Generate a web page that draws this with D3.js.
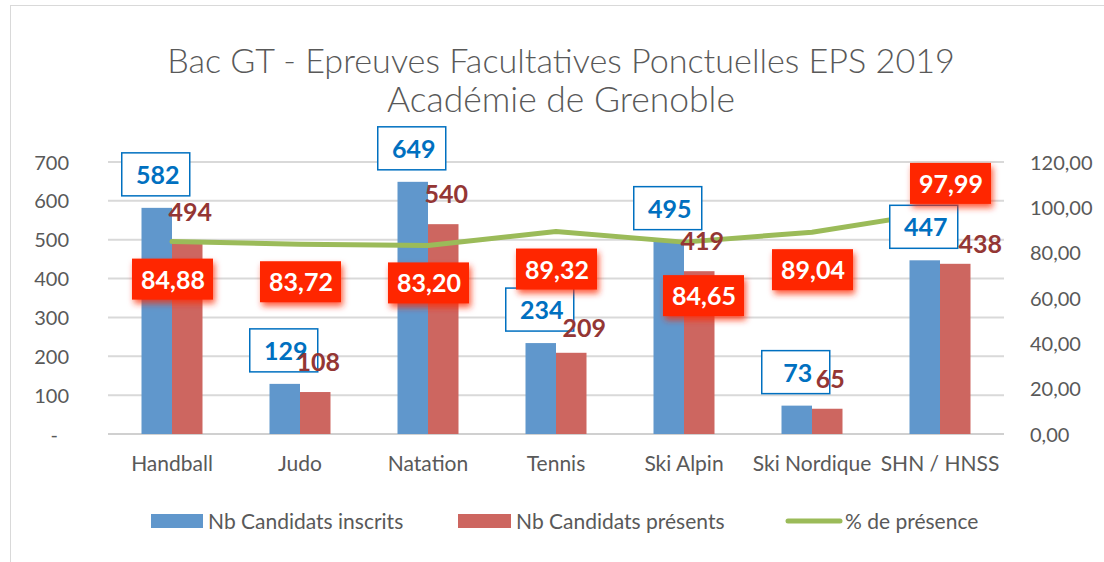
<!DOCTYPE html>
<html><head><meta charset="utf-8">
<script src="https://cdn.jsdelivr.net/npm/d3@7"></script>
<style>
html,body{margin:0;padding:0;background:#fff;}
svg{display:block;font-family:Lato,'Open Sans',sans-serif;}
</style></head>
<body>
<script>
const categories = ["Handball","Judo","Natation","Tennis","Ski Alpin","Ski Nordique","SHN / HNSS"];
const inscrits = [582,129,649,234,495,73,447];
const presents = [494,108,540,209,419,65,438];
const presence = [84.88,83.72,83.20,89.32,84.65,89.04,97.99];
const leftTicks = [0,100,200,300,400,500,600,700];
const rightTicks = [0,20,40,60,80,100,120];
const seriesNames = ["Nb Candidats inscrits","Nb Candidats présents","% de présence"];
const titleLines = ["Bac GT - Epreuves Facultatives Ponctuelles EPS 2019","Académie de Grenoble"];

const W=1104,H=562;
const C={blue:"#6097cc",red:"#cd6660",green:"#9bbb59",grid:"#d9d9d9",text:"#595959",blueLab:"#0070c0",redLab:"#943634",box:"#ff2500"};
// manual label nudges (layout only), as in the original chart
const pctNudge={"Ski Alpin":[19,16],"SHN / HNSS":[10,-66]};
const redNudge={"Tennis":[10,5],"SHN / HNSS":[22,10]};

const svg=d3.select("body").append("svg").attr("width",W).attr("height",H);
const defs=svg.append("defs");
const f=defs.append("filter").attr("id","glow").attr("x","-30%").attr("y","-30%").attr("width","170%").attr("height","180%");
f.append("feDropShadow").attr("dx",2).attr("dy",4).attr("stdDeviation",3).attr("flood-color","#ff2a00").attr("flood-opacity",0.75);

svg.append("rect").attr("x",10.5).attr("y",5.5).attr("width",1110).attr("height",600).attr("fill","#fff").attr("stroke","#d9d9d9");

// title
const tw=[788,348];
titleLines.forEach((t,i)=>{
  const tx=svg.append("text").attr("x",561).attr("y",73+i*39).attr("text-anchor","middle")
    .attr("fill",C.text).attr("font-weight",300).attr("font-size",32).text(t);
  const len=tx.node().getComputedTextLength();
  tx.attr("font-size",32*tw[i]/len);
});

const x=d3.scaleBand().domain(categories).range([108,1004]).padding(0);
const xs=d3.scaleBand().domain([0,1]).range([0,61]);
const off=(x.bandwidth()-61)/2;
const yL=d3.scaleLinear().domain([0,700]).range([434,162]);
const yR=d3.scaleLinear().domain([0,120]).range([434,162]);

// grid
svg.append("g").selectAll("line").data(leftTicks).join("line")
  .attr("x1",108).attr("x2",1004).attr("y1",d=>yL(d)).attr("y2",d=>yL(d))
  .attr("stroke",d=>d===0?"#d0d0d0":C.grid).attr("stroke-width",2);

// left axis
const gL=svg.append("g").attr("transform","translate(69,0)")
  .call(d3.axisLeft(yL).tickValues(leftTicks).tickSize(0).tickPadding(0).tickFormat(d=>d===0?"-":d));
gL.select(".domain").remove();
gL.selectAll("text").attr("font-size",20).attr("fill",C.text).attr("font-family","Lato,sans-serif").attr("dy","0.35em");
gL.selectAll(".tick").filter(d=>d===0).select("text").attr("dx",-11);

// right axis
const gR=svg.append("g").attr("transform","translate(1030,0)")
  .call(d3.axisRight(yR).tickValues(rightTicks).tickSize(0).tickPadding(0).tickFormat(d=>d3.format(".2f")(d).replace(".",",")));
gR.select(".domain").remove();
gR.selectAll("text").attr("font-size",20).attr("fill",C.text).attr("font-family","Lato,sans-serif").attr("dy","0.35em");

// x axis labels
const gX=svg.append("g").attr("transform","translate(0,455)")
  .call(d3.axisBottom(x).tickSize(0).tickPadding(0));
gX.select(".domain").remove();
gX.selectAll("text").attr("font-size",21).attr("fill",C.text).attr("font-family","Lato,sans-serif").attr("dy","0.75em");

// bars
const bars=svg.append("g");
bars.selectAll(".b1").data(categories).join("rect")
  .attr("x",(d)=>x(d)+off+xs(0)).attr("width",xs.bandwidth())
  .attr("y",(d,i)=>yL(inscrits[i])).attr("height",(d,i)=>yL(0)-yL(inscrits[i])).attr("fill",C.blue);
bars.selectAll(".b2").data(categories).join("rect")
  .attr("x",(d)=>x(d)+off+xs(1)).attr("width",xs.bandwidth())
  .attr("y",(d,i)=>yL(presents[i])).attr("height",(d,i)=>yL(0)-yL(presents[i])).attr("fill",C.red);

// line
const cx=d=>x(d)+x.bandwidth()/2;
svg.append("path").datum(categories)
  .attr("d",d3.line().x(d=>cx(d)).y((d,i)=>yR(presence[i])))
  .attr("fill","none").attr("stroke",C.green).attr("stroke-width",5).attr("stroke-linejoin","round").attr("stroke-linecap","round");

// blue labels with box
const bl=svg.append("g");
categories.forEach((c,i)=>{
  const bx=x(c)+off+xs(0)+xs.bandwidth()/2-1;
  const by=yL(inscrits[i])-12;
  bl.append("rect").attr("x",bx-34).attr("y",by-43).attr("width",68).attr("height",43)
    .attr("fill","#fff").attr("stroke",C.blueLab).attr("stroke-width",1.5);
  bl.append("text").attr("x",bx+2).attr("y",by-12).attr("text-anchor","middle")
    .attr("font-size",25).attr("font-weight",700).attr("fill",C.blueLab).text(inscrits[i]);
});

// red value labels
categories.forEach((c,i)=>{
  const n=redNudge[c]||[0,0];
  const bx=x(c)+off+xs(1)+xs.bandwidth()/2+3+n[0];
  svg.append("text").attr("x",bx).attr("y",yL(presents[i])-21+n[1]).attr("text-anchor","middle")
    .attr("font-size",25).attr("font-weight",700).attr("fill",C.redLab).text(presents[i]);
});

// percentage labels
categories.forEach((c,i)=>{
  const n=pctNudge[c]||[0,0];
  const px=cx(c)+n[0], py=yR(presence[i])+38+n[1];
  const g=svg.append("g");
  g.append("rect").attr("x",px-40).attr("y",py-21).attr("width",81).attr("height",41)
    .attr("fill",C.box).attr("filter","url(#glow)");
  g.append("text").attr("x",px+1).attr("y",py+9).attr("text-anchor","middle")
    .attr("font-size",25).attr("font-weight",700).attr("fill","#fff").text(d3.format(".2f")(presence[i]).replace(".",","));
});

// legend
const lg=svg.append("g").attr("font-size",21).attr("fill",C.text);
lg.append("rect").attr("x",151).attr("y",514).attr("width",52).attr("height",14).attr("fill",C.blue);
lg.append("text").attr("x",208).attr("y",529).text(seriesNames[0]);
lg.append("rect").attr("x",458).attr("y",514).attr("width",53).attr("height",14).attr("fill",C.red);
lg.append("text").attr("x",516).attr("y",529).text(seriesNames[1]);
lg.append("line").attr("x1",788).attr("x2",840).attr("y1",521).attr("y2",521).attr("stroke",C.green).attr("stroke-width",5).attr("stroke-linecap","round");
lg.append("text").attr("x",845).attr("y",529).text(seriesNames[2]);
</script>
</body></html>
